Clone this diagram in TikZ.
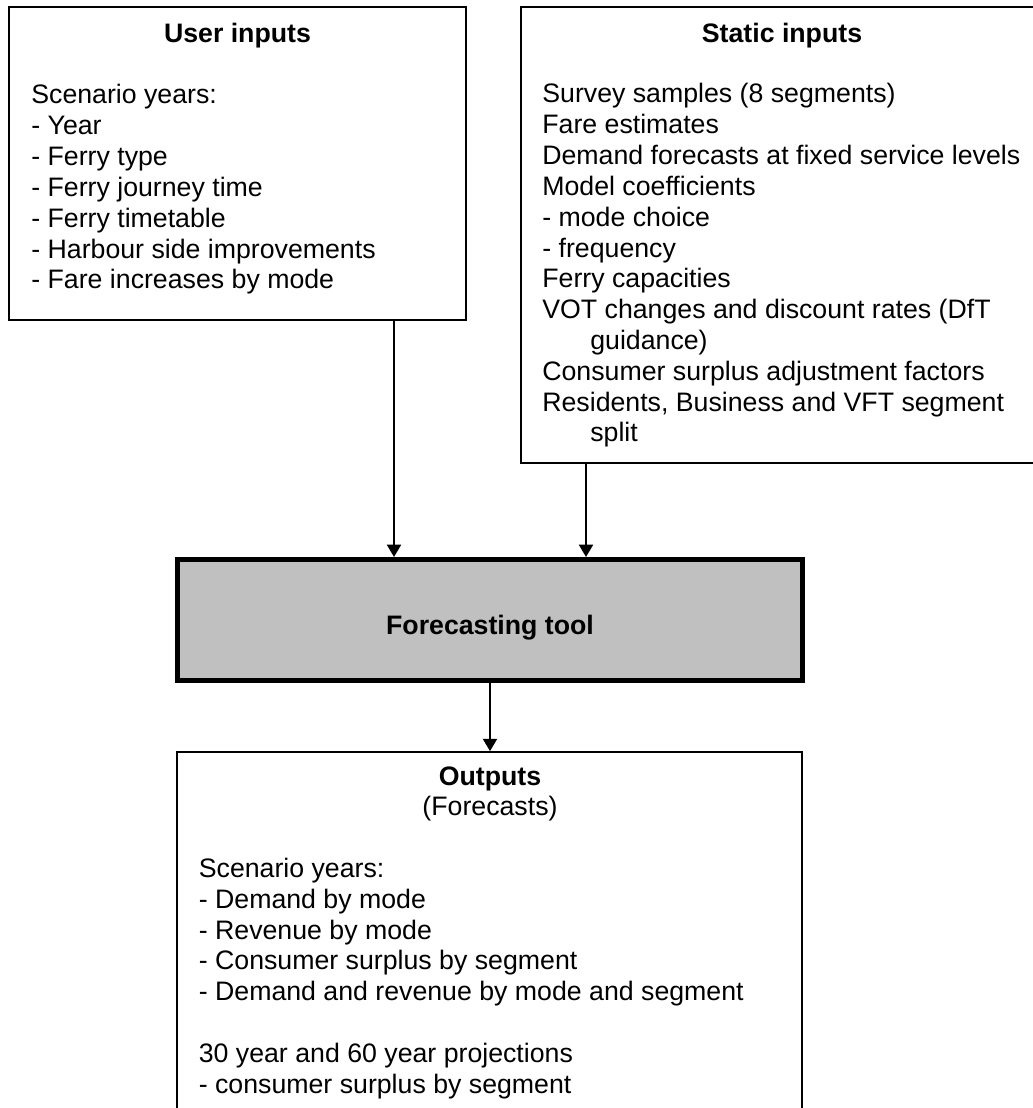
\documentclass[tikz,border=0pt]{standalone}
\usepackage{fontspec}
\setmainfont{Liberation Sans}
\usetikzlibrary{arrows.meta}
\definecolor{toolgray}{HTML}{C0C0C0}
\newcommand{\bodyfont}{\fontsize{15.2}{18.5}\selectfont}
\tikzset{
	box/.style={draw, line width=1pt, inner sep=0pt},
	toolbox/.style={draw, line width=2.9pt, fill=toolgray, inner sep=0pt},
	txtline/.style={anchor=base west, inner sep=0pt},
	heading/.style={anchor=base, inner sep=0pt, font=\bodyfont\bfseries},
	feed/.style={line width=1pt, -{Triangle[length=7pt, width=8pt]}}
}

\begin{document}
\begin{tikzpicture}[x=0.02cm, y=-0.02cm, font=\bodyfont]
	\useasboundingbox (0,0) rectangle (1032,1108);
	\def\lh{30.8} % Line spacing

	% Draw the boxes
	\node[box, minimum width=9.14cm, minimum height=6.26cm] (user) at (237.5,163.5) {};
	\node[box, minimum width=10.44cm, minimum height=9.12cm] (static) at (782,235) {};
	\node[toolbox, minimum width=12.5cm, minimum height=2.42cm] (tool) at (490,620) {};
	\node[box, minimum width=12.5cm, minimum height=7.56cm] (out) at (489.5,941) {};

	% Headings
	\node[heading] (userhead) at (237.5,43) {User inputs};
	\node[heading] (stathead) at (782,43) {Static inputs};
	\node[heading] (toolhead) at (490,634) {Forecasting tool};
	\node[heading] (outhead) at (490,785) {Outputs};
	\node[anchor=base, inner sep=0pt] (outsub) at (490,{785+\lh}) {(Forecasts)};

	% User inputs
	\foreach \txt [count=\i from 0] in {Scenario years:, - Year, - Ferry type,
			- Ferry journey time, - Ferry timetable, - Harbour side improvements,
			- Fare increases by mode} {
			\node[txtline] (user\i) at (31,{104+\lh*\i}) {\txt};
		}

	% Static inputs
	\foreach \dx/\txt [count=\i from 0] in {0/Survey samples (8 segments),
			0/Fare estimates, 0/Demand forecasts at fixed service levels,
			0/Model coefficients, 0/- mode choice, 0/- frequency,
			0/Ferry capacities, 0/VOT changes and discount rates (DfT,
			48/guidance), 0/Consumer surplus adjustment factors,
			{0/Residents, Business and VFT segment}, 48/split} {
			\node[txtline] (stat\i) at ({542+\dx},{103+\lh*\i}) {\txt};
		}

	% Outputs
	\foreach \row/\txt in {3/Scenario years:, 4/- Demand by mode,
			5/- Revenue by mode, 6/- Consumer surplus by segment,
			7/- Demand and revenue by mode and segment,
			9/30 year and 60 year projections, 10/- consumer surplus by segment} {
			\node[txtline] (out\row) at (198.5,{785+\lh*\row}) {\txt};
		}

	% Draw the arrows
	\coordinate (ua) at (394,0);
	\coordinate (sa) at (586,0);
	\draw[feed] (user.south -| ua) -- (tool.north -| ua);
	\draw[feed] (static.south -| sa) -- (tool.north -| sa);
	\draw[feed] (tool.south) -- (out.north -| tool.south);
\end{tikzpicture}
\end{document}
